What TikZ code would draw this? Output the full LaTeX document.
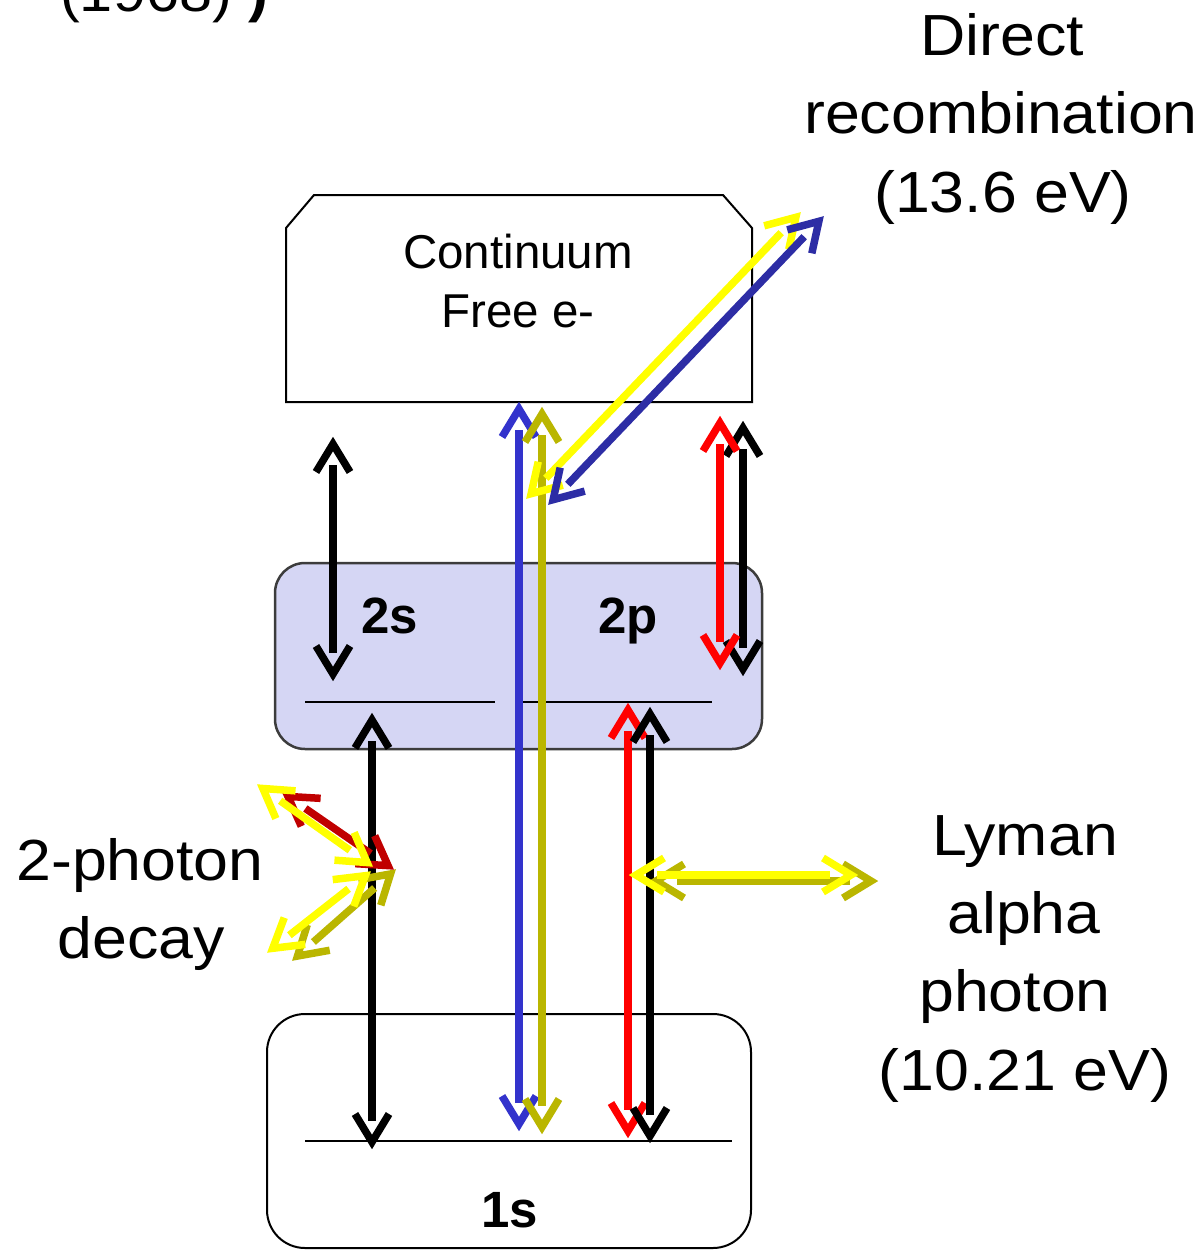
\documentclass[tikz,border=0pt]{standalone}
\usepackage{fontspec}
\setmainfont{Liberation Sans}
\usepackage{graphicx}
\usetikzlibrary{arrows.meta}

\definecolor{lav}{RGB}{213,214,244}
\definecolor{lavline}{RGB}{60,60,60}
\definecolor{myblue}{RGB}{51,51,204}
\definecolor{mynavy}{RGB}{45,45,165}
\definecolor{myolive}{RGB}{186,182,0}
\definecolor{myyellow}{RGB}{255,255,0}
\definecolor{myred}{RGB}{255,0,0}
\definecolor{mydarkred}{RGB}{192,0,0}

\pgfdeclarearrow{
  name = OpenV,
  parameters = {\the\pgfarrowlength,\the\pgfarrowwidth,\the\pgfarrowlinewidth},
  setup code = {
    \pgfarrowssettipend{0pt}
    \pgfarrowssetbackend{-\pgfarrowlength}
    \pgfarrowssetlineend{-.8\pgfarrowlength}
    \pgfarrowssavethe\pgfarrowlength
    \pgfarrowssavethe\pgfarrowwidth
    \pgfarrowssavethe\pgfarrowlinewidth
  },
  drawing code = {
    \pgfsetlinewidth{\pgfarrowlinewidth}
    \pgfsetmiterjoin
    \pgfsetbuttcap
    \pgfpathmoveto{\pgfqpoint{-\pgfarrowlength}{.5\pgfarrowwidth}}
    \pgfpathlineto{\pgfqpoint{-6pt}{0pt}}
    \pgfpathlineto{\pgfqpoint{-\pgfarrowlength}{-.5\pgfarrowwidth}}
    \pgfusepathqstroke
  },
  defaults = {length = 34pt, width = 34pt, line width = 0pt 1 1}
}

\tikzset{
  arr/.style={line width=7.5pt, >={OpenV}, <->},
  big/.style={font=\fontsize{58}{70}\selectfont, inner sep=0pt, anchor=base},
  mid/.style={font=\fontsize{47.5}{56}\selectfont, inner sep=0pt, anchor=base},
  lvl/.style={font=\fontsize{51}{60}\selectfont\bfseries, inner sep=0pt, anchor=base},
  levelline/.style={line width=2.5pt, black},
}

\begin{document}
\begin{tikzpicture}[x=1pt,y=-1pt]
\useasboundingbox (0,0) rectangle (1204,1250);

% text cut off at the top left, as in the reference
\begin{scope}
\clip (0,0) rectangle (1204,1250);
\node[font=\fontsize{55}{66}\selectfont, inner sep=0pt, anchor=base west] (cut) at (60,12)
  {\scalebox{1.08}[1]{(1968) \textbf{)}}};
\end{scope}

% boxes
\draw[line width=2pt, black] (314,195) -- (723,195) -- (752,228) -- (752,402)
  -- (286,402) -- (286,228) -- cycle;
\node[draw=lavline, fill=lav, line width=2.5pt, rounded corners=30pt,
      minimum width=487pt, minimum height=186pt, inner sep=0pt] (n2) at (518.5,656) {};
\node[draw=black, fill=white, line width=2pt, rounded corners=38pt,
      minimum width=484pt, minimum height=234pt, inner sep=0pt] (n1) at (509,1131) {};

% level lines
\coordinate (s2a) at (305,702); \coordinate (s2b) at (495,702);
\coordinate (p2a) at (522,702); \coordinate (p2b) at (712,702);
\coordinate (s1a) at (305,1141); \coordinate (s1b) at (732,1141);
\draw[levelline] (s2a) -- (s2b);
\draw[levelline] (p2a) -- (p2b);
\draw[levelline] (s1a) -- (s1b);

% texts in boxes
\node[mid] (cont) at (518,268) {Continuum};
\node[mid] (free) at (518,327) {Free e-};
\node[lvl] (t2s) at (390,633) {2s};
\node[lvl] (t2p) at (628,633) {2p};
\node[lvl] (t1s) at (510,1227) {1s};

% labels
\node[big] (d1) at (1002,55) {\scalebox{1.08}[1]{Direct}};
\node[big] (d2) at (1001,133) {\scalebox{1.08}[1]{recombination}};
\node[big] (d3) at (1003,212) {\scalebox{1.08}[1]{(13.6 eV)}};
\node[big] (l1) at (1025,855) {\scalebox{1.08}[1]{Lyman}};
\node[big] (l2) at (1024,933) {\scalebox{1.08}[1]{alpha}};
\node[big] (l3) at (1015,1011) {\scalebox{1.08}[1]{photon}};
\node[big] (l4) at (1025,1090) {\scalebox{1.08}[1]{(10.21 eV)}};
\node[big] (p1) at (140,880) {\scalebox{1.08}[1]{2-photon}};
\node[big] (p2) at (141,958) {\scalebox{1.08}[1]{decay}};

% arrow end points
\coordinate (k1a) at (333,438);  \coordinate (k1b) at (333,680);
\coordinate (k2a) at (372,714);  \coordinate (k2b) at (372,1148);
\coordinate (bva) at (519,403);  \coordinate (bvb) at (519,1130);
\coordinate (ova) at (542,408);  \coordinate (ovb) at (542,1133);
\coordinate (r1a) at (720,417);  \coordinate (r1b) at (720,669);
\coordinate (k3a) at (743,422);  \coordinate (k3b) at (743,675);
\coordinate (r2a) at (628,704);  \coordinate (r2b) at (628,1137);
\coordinate (k4a) at (650,708);  \coordinate (k4b) at (650,1142);
\coordinate (ydA) at (800,213);  \coordinate (ydB) at (527,498);
\coordinate (ndA) at (823,217);  \coordinate (ndB) at (549,504);
\coordinate (ylA) at (630,875);  \coordinate (ylB) at (857,875);
\coordinate (olA) at (650,881);  \coordinate (olB) at (877,881);
\coordinate (y2A) at (258,785);  \coordinate (y2B) at (372,866);
\coordinate (dr2A) at (283,793); \coordinate (dr2B) at (393,869);
\coordinate (y3A) at (370,872);  \coordinate (y3B) at (268,952);
\coordinate (o3A) at (395,870);  \coordinate (o3B) at (293,960);

% vertical arrows
\draw[arr, black] (k1a) -- (k1b);
\draw[arr, black] (k2a) -- (k2b);
\draw[arr, myblue] (bva) -- (bvb);
\draw[arr, myolive] (ova) -- (ovb);
\draw[arr, black] (k3a) -- (k3b);
\draw[arr, myred] (r1a) -- (r1b);
\draw[arr, myred] (r2a) -- (r2b);
\draw[arr, black] (k4a) -- (k4b);

% diagonal arrows (direct recombination)
\draw[arr, myyellow] (ydA) -- (ydB);
\draw[arr, mynavy] (ndA) -- (ndB);

% Lyman alpha
\draw[arr, myolive] (olA) -- (olB);
\draw[arr, myyellow] (ylA) -- (ylB);

% two-photon decay
\draw[arr, myolive] (o3A) -- (o3B);
\draw[arr, mydarkred] (dr2A) -- (dr2B);
\draw[arr, myyellow] (y3A) -- (y3B);
\draw[arr, myyellow] (y2A) -- (y2B);

\end{tikzpicture}
\end{document}
